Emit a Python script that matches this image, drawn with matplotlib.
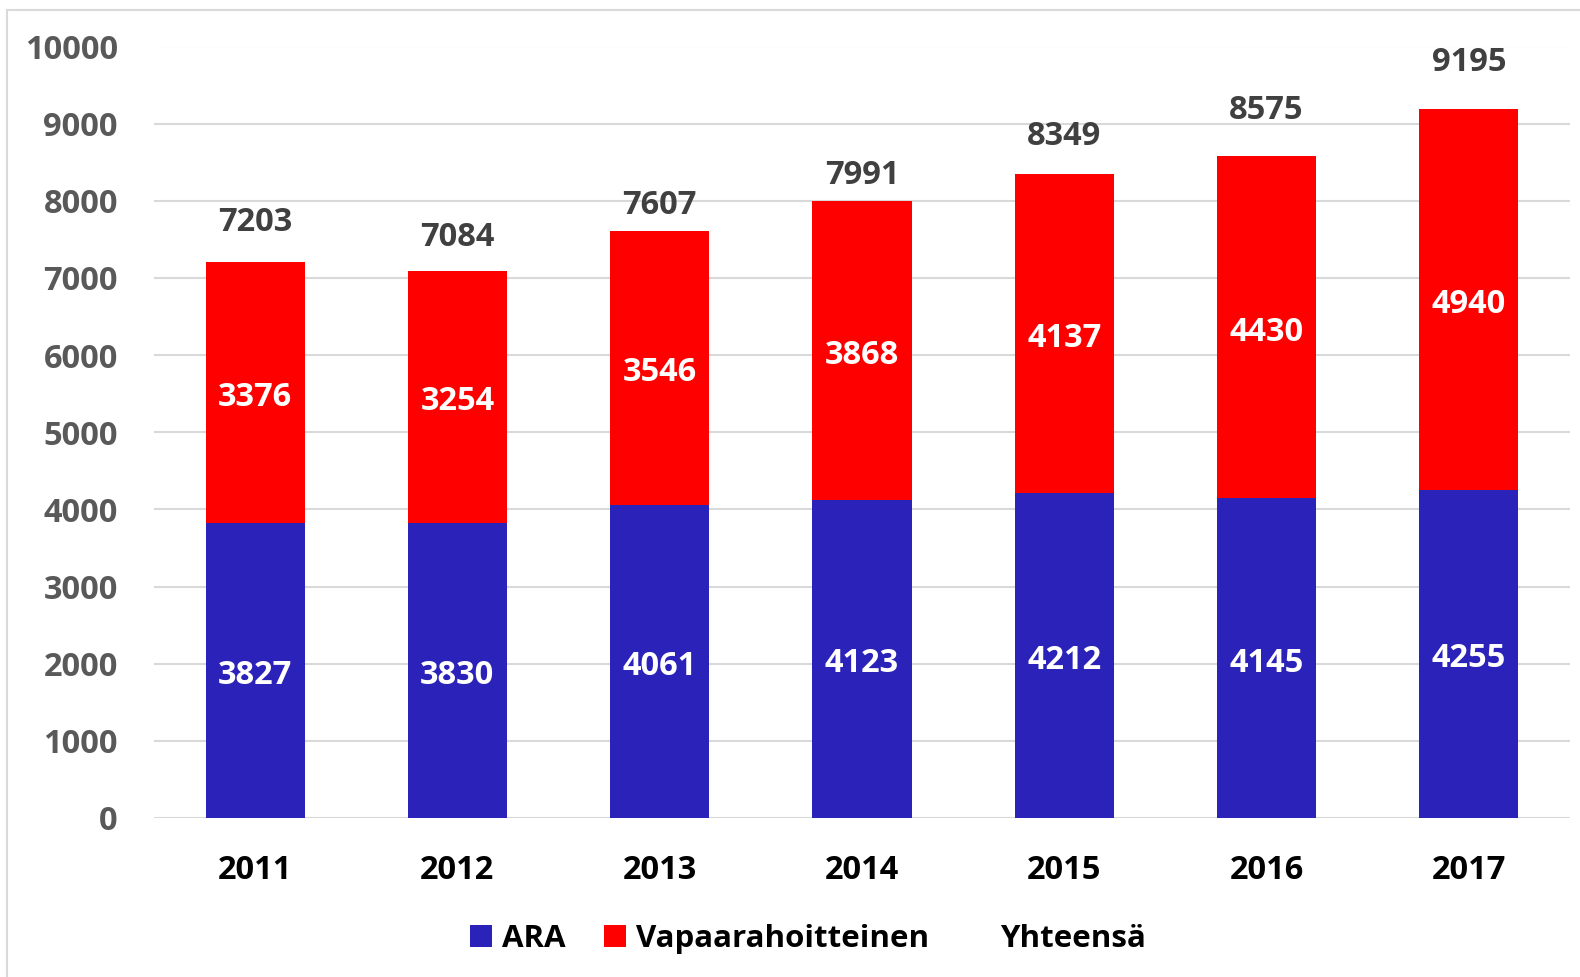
import matplotlib
matplotlib.use('Agg')
import matplotlib.pyplot as plt
from matplotlib.patches import Patch
from matplotlib.lines import Line2D
import numpy as np

plt.rcParams['font.family'] = ['Open Sans', 'DejaVu Sans']
plt.rcParams['font.weight'] = 'bold'

# data
years = ['2011', '2012', '2013', '2014', '2015', '2016', '2017']
ara = [3827, 3830, 4061, 4123, 4212, 4145, 4255]
vapaa = [3376, 3254, 3546, 3868, 4137, 4430, 4940]
totals = [7203, 7084, 7607, 7991, 8349, 8575, 9195]
series_names = ['ARA', 'Vapaarahoitteinen', 'Yhteensä']

# style
BLUE = '#2A22B9'
RED = '#FF0000'
GRID = '#D9D9D9'
FS = 23.5
total_offsets = [40, 34, 26, 26, 37, 46, 46]  # px above bar top (label placement)

W, H = 1580, 977
fig = plt.figure(figsize=(W / 100, H / 100), dpi=100)
ax = fig.add_axes([154 / W, 1 - 818 / H, 1416 / W, (818 - 46.5) / H])

x = np.arange(len(years))
ax.bar(x, ara, width=0.49, color=BLUE, zorder=3)
ax.bar(x, vapaa, width=0.49, bottom=ara, color=RED, zorder=3)

for i in range(len(years)):
    ax.annotate(str(ara[i]), (x[i], ara[i] / 2), xytext=(0, -5),
                textcoords='offset pixels', ha='center', va='center',
                color='white', fontsize=FS, fontweight='bold', zorder=4)
    ax.annotate(str(vapaa[i]), (x[i], ara[i] + vapaa[i] / 2), xytext=(0, -5),
                textcoords='offset pixels', ha='center', va='center',
                color='white', fontsize=FS, fontweight='bold', zorder=4)
    ax.annotate(str(totals[i]), (x[i], totals[i]), xytext=(0, total_offsets[i]),
                textcoords='offset pixels', ha='center', va='center',
                color='#404040', fontsize=FS, fontweight='bold')

ax.set_xlim(-0.5, len(years) - 0.5)
ax.set_ylim(0, 10000)
ax.set_yticks(np.arange(0, 10001, 1000))
ax.set_xticks(x)
ax.set_xticklabels(years, fontweight='bold')
for lab in ax.get_yticklabels():
    lab.set_fontweight('bold')
ax.yaxis.grid(True, color=GRID, linewidth=1.5, zorder=0)
ax.set_axisbelow(True)
for s in ax.spines.values():
    s.set_visible(False)
ax.tick_params(axis='y', length=0, pad=26, labelsize=FS, labelcolor='#595959')
ax.tick_params(axis='x', length=0, pad=26, labelsize=FS, labelcolor='black')

handles = [Patch(facecolor=BLUE, edgecolor='none'),
           Patch(facecolor=RED, edgecolor='none'),
           Patch(facecolor='none', edgecolor='none')]
fig.legend(handles, series_names, loc='center', bbox_to_anchor=(808 / W, 1 - 939 / H),
           ncol=3, frameon=False, prop={'size': 22.5, 'weight': 'bold'},
           handlelength=0.68, handleheight=0.68, handletextpad=0.33, columnspacing=1.25)

# outer chart border (top and left visible)
fig.add_artist(Line2D([7 / W, 1.0], [1 - 10 / H, 1 - 10 / H], color=GRID, linewidth=1.5))
fig.add_artist(Line2D([7 / W, 7 / W], [0, 1 - 10 / H], color=GRID, linewidth=1.5))

fig.savefig('out.png', dpi=100)
